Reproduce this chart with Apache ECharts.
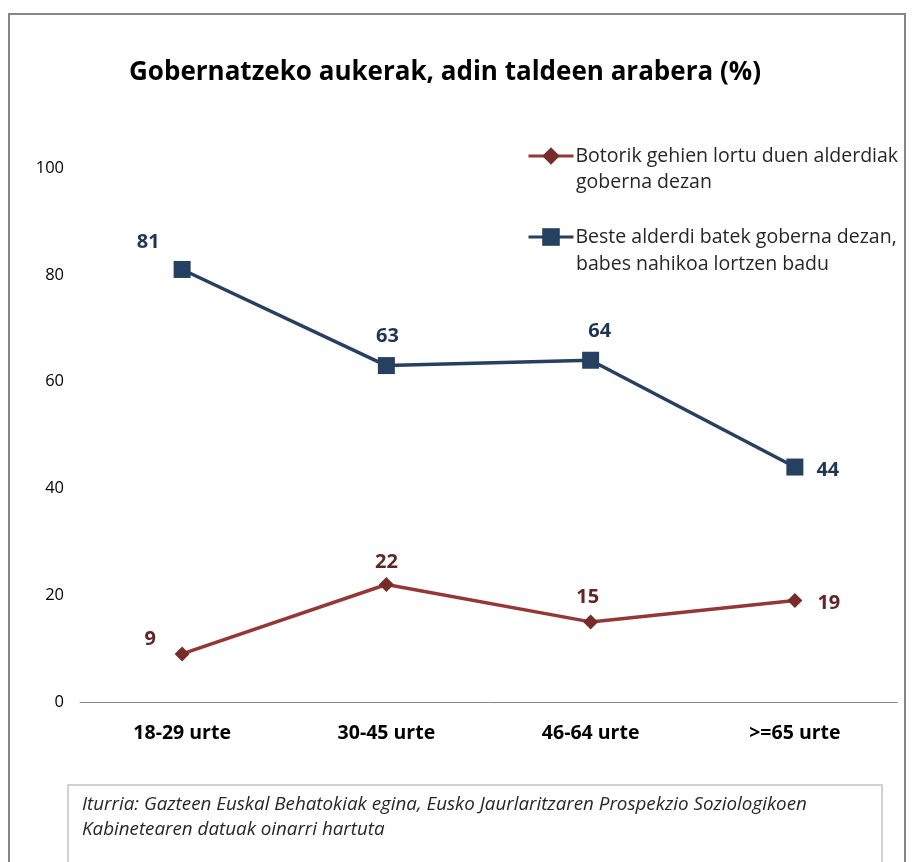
<!DOCTYPE html>
<html><head><meta charset="utf-8">
<script src="https://cdn.jsdelivr.net/npm/echarts@6/dist/echarts.min.js"></script>
<style>html,body{margin:0;padding:0;background:#fff}#c{width:914px;height:862px}</style>
</head><body><div id="c"></div>
<script>
const categories = ['18-29 urte', '30-45 urte', '46-64 urte', '>=65 urte'];
const seriesNames = ['Botorik gehien lortu duen alderdiak goberna dezan', 'Beste alderdi batek goberna dezan, babes nahikoa lortzen badu'];
const legendLine1 = ['Botorik gehien lortu duen alderdiak', 'Beste alderdi batek goberna dezan,'];
const legendLine2 = ['goberna dezan', 'babes nahikoa lortzen badu'];
const redValues = [9, 22, 15, 19];
const blueValues = [81, 63, 64, 44];
const yTicks = [0, 20, 40, 60, 80, 100];
const titleText = 'Gobernatzeko aukerak, adin taldeen arabera (%)';
const sourceText = 'Iturria: Gazteen Euskal Behatokiak egina, Eusko Jaurlaritzaren Prospekzio Soziologikoen\nKabinetearen datuak oinarri hartuta';

const FONT = '"Open Sans", sans-serif';
const RED = '#953735', RED_M = '#772C2A', BLUE = '#254061';

const redLabelPos = [
  {position: 'top', offset: [-32, 8]},
  {position: 'top', offset: [0, 0]},
  {position: 'top', offset: [-3, -2]},
  {position: 'right', offset: [10, 3]}
];
const blueLabelPos = [
  {position: 'top', offset: [-34, -4]},
  {position: 'top', offset: [1, -6]},
  {position: 'top', offset: [9, -5]},
  {position: 'right', offset: [8, 3]}
];

function mk(vals, pos) {
  return vals.map((v, i) => ({value: v, label: {position: pos[i].position, offset: pos[i].offset}}));
}

const chart = echarts.init(document.getElementById('c'));
chart.setOption({
  animation: false,
  backgroundColor: '#fff',
  title: {
    text: titleText, left: 440, textAlign: 'center', top: 55,
    textStyle: {fontFamily: FONT, fontWeight: 'bold', fontSize: 26, color: '#000'}
  },
  grid: {left: 80, right: 17, top: 168, bottom: 160},
  legend: {
    orient: 'vertical', left: 527, top: 146, itemGap: 61, padding: 0,
    itemWidth: 45, itemHeight: 22,
    data: seriesNames,
    lineStyle: {width: 3},
    formatter: name => legendLine1[seriesNames.indexOf(name)],
    textStyle: {fontFamily: FONT, fontSize: 19.5, color: '#262626', padding: [0, 0, 0, -3]}
  },
  xAxis: {
    type: 'category', data: categories, boundaryGap: true,
    axisLine: {lineStyle: {color: '#868686', width: 1}},
    axisTick: {show: false},
    axisLabel: {fontFamily: FONT, fontWeight: 'bold', fontSize: 19.5, color: '#000', margin: 21}
  },
  yAxis: {
    type: 'value', min: 0, max: 100, interval: 20,
    axisLine: {show: false}, axisTick: {show: false}, splitLine: {show: false},
    axisLabel: {fontFamily: FONT, fontSize: 16.5, color: '#000', margin: 16,
      formatter: v => yTicks.includes(v) ? String(v) : ''}
  },
  series: [
    {
      name: seriesNames[0], type: 'line', data: mk(redValues, redLabelPos),
      symbol: 'diamond', symbolSize: 15,
      lineStyle: {color: RED, width: 3.5}, itemStyle: {color: RED_M},
      label: {show: true, fontFamily: FONT, fontWeight: 'bold', fontSize: 20, color: '#632523'}
    },
    {
      name: seriesNames[1], type: 'line', data: mk(blueValues, blueLabelPos),
      symbol: 'rect', symbolSize: 17,
      lineStyle: {color: BLUE, width: 3.5}, itemStyle: {color: BLUE},
      label: {show: true, fontFamily: FONT, fontWeight: 'bold', fontSize: 20, color: '#1F3556'}
    }
  ],
  graphic: [
    {type: 'rect', shape: {x: 9, y: 14, width: 896, height: 900}, style: {fill: 'none', stroke: '#868686', lineWidth: 2}, silent: true},
    {type: 'rect', shape: {x: 68, y: 785, width: 814, height: 120}, style: {fill: 'none', stroke: '#D0D0D0', lineWidth: 2}, silent: true},
    {type: 'text', left: 82, top: 792, style: {text: sourceText, font: 'italic 18.8px ' + FONT, fill: '#262626', lineHeight: 25}},
    {type: 'text', left: 576, top: 172, style: {text: legendLine2[0], font: '19.5px ' + FONT, fill: '#262626'}},
    {type: 'text', left: 576, top: 254, style: {text: legendLine2[1], font: '19.5px ' + FONT, fill: '#262626'}}
  ]
});
</script></body></html>
